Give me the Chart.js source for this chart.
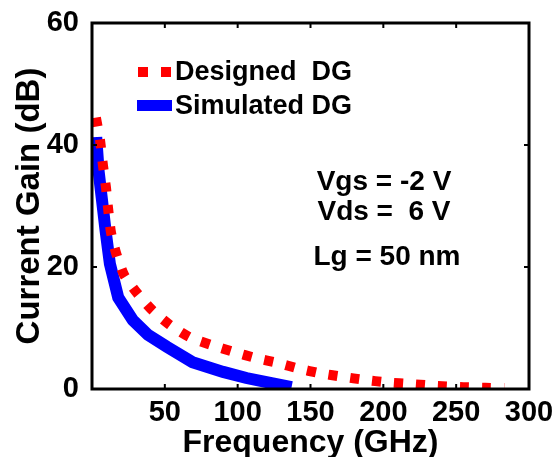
<!DOCTYPE html>
<html>
<head>
<meta charset="utf-8">
<script src="https://cdn.jsdelivr.net/npm/chart.js@4"></script>
<style>
  html, body { margin: 0; padding: 0; background: #fff; }
  #wrap { width: 556px; height: 457px; }
</style>
</head>
<body>
<div id="wrap"><canvas id="gainChart" width="556" height="457"></canvas></div>
<script>
// ---- data ----
const designedFreq = [2.7, 5.5, 7.5, 9.6, 11, 13, 16.5, 22, 31, 41, 53.5, 67, 82, 97, 112, 127, 141, 156, 172, 187, 202, 220, 237, 255, 270, 283];
const designedGain = [44.5, 40.8, 36.7, 33, 29.7, 25.7, 22.3, 18.7, 15.7, 13, 10.5, 8.5, 7.2, 6.1, 5.1, 4.3, 3.4, 2.6, 2.0, 1.5, 1.1, 0.8, 0.5, 0.3, 0.2, 0.15];

const simulatedFreq = [2.9, 4.6, 9.4, 12.3, 18, 28, 38.4, 51.5, 69, 90, 106, 137];
const simulatedGain = [41.3, 35.6, 25.8, 20.5, 15, 11.3, 8.9, 6.9, 4.4, 2.8, 1.8, 0.3];

const xTicks = [50, 100, 150, 200, 250, 300];
const yTicks = [0, 20, 40, 60];

const notes = ['Vgs = -2 V', 'Vds =  6 V', 'Lg = 50 nm'];

const FONT = "'Liberation Sans', Arial, sans-serif";

function toPoints(xs, ys) {
    return xs.map((x, i) => ({ x: x, y: ys[i] }));
}

// box + inward ticks, legend and text notes (MATLAB look)
const decorPlugin = {
    id: 'decor',
    afterDatasetsDraw(chart) {
        const ctx = chart.ctx;
        const a = chart.chartArea;
        const xs = chart.scales.x, ys = chart.scales.y;
        ctx.save();
        ctx.strokeStyle = '#000';
        ctx.lineWidth = 3;
        ctx.strokeRect(a.left, a.top, a.right - a.left, a.bottom - a.top);

        ctx.lineWidth = 2;
        ctx.beginPath();
        xTicks.forEach(v => {
            const px = xs.getPixelForValue(v);
            ctx.moveTo(px, a.bottom); ctx.lineTo(px, a.bottom - 5);
            ctx.moveTo(px, a.top); ctx.lineTo(px, a.top + 5);
        });
        yTicks.forEach(v => {
            const py = ys.getPixelForValue(v);
            ctx.moveTo(a.left, py); ctx.lineTo(a.left + 5, py);
            ctx.moveTo(a.right, py); ctx.lineTo(a.right - 5, py);
        });
        ctx.stroke();

        // legend
        ctx.fillStyle = '#ff0000';
        ctx.fillRect(138, 67, 10, 10);
        ctx.fillRect(161, 67, 10, 10);
        ctx.fillStyle = '#0000ff';
        ctx.fillRect(137, 100, 35, 11);

        ctx.fillStyle = '#000';
        ctx.textBaseline = 'middle';
        ctx.textAlign = 'left';
        ctx.font = 'bold 27px ' + FONT;
        ctx.fillText('Designed  DG', 175, 73);
        ctx.fillText('Simulated DG', 175, 107);

        ctx.textAlign = 'center';
        ctx.font = 'bold 28px ' + FONT;
        ctx.fillText(notes[0], 384, 182);
        ctx.fillText(notes[1], 384, 212);
        ctx.fillText(notes[2], 387, 257);
        ctx.restore();
    }
};

new Chart(document.getElementById('gainChart').getContext('2d'), {
    type: 'line',
    data: {
        datasets: [{
            label: 'Designed  DG',
            data: toPoints(designedFreq, designedGain),
            borderColor: '#ff0000',
            borderWidth: 10,
            borderDash: [9, 13],
            borderCapStyle: 'butt',
            pointRadius: 0,
            tension: 0.2,
            fill: false
        }, {
            label: 'Simulated DG',
            data: toPoints(simulatedFreq, simulatedGain),
            borderColor: '#0000ff',
            borderWidth: 12,
            borderJoinStyle: 'miter',
            pointRadius: 0,
            tension: 0,
            fill: false
        }]
    },
    options: {
        responsive: false,
        animation: false,
        devicePixelRatio: 1,
        layout: { padding: { top: 23, right: 27, left: 0, bottom: 0 } },
        plugins: {
            legend: { display: false },
            tooltip: { enabled: false }
        },
        scales: {
            x: {
                type: 'linear',
                min: 0,
                max: 300,
                afterFit: (s) => { s.height = 68; },
                afterBuildTicks: (s) => { s.ticks = xTicks.map(v => ({ value: v })); },
                grid: { display: false },
                border: { display: false },
                ticks: {
                    color: '#000',
                    padding: -1,
                    font: { family: FONT, size: 29, weight: 'bold' }
                },
                title: {
                    display: true,
                    text: 'Frequency (GHz)',
                    color: '#000',
                    padding: { top: 0, bottom: -5 },
                    font: { family: FONT, size: 32, weight: 'bold' }
                }
            },
            y: {
                type: 'linear',
                min: 0,
                max: 60,
                afterFit: (s) => { s.width = 92; },
                afterBuildTicks: (s) => { s.ticks = yTicks.map(v => ({ value: v })); },
                grid: { display: false },
                border: { display: false },
                ticks: {
                    color: '#000',
                    padding: 5,
                    font: { family: FONT, size: 29, weight: 'bold' }
                },
                title: {
                    display: true,
                    text: 'Current Gain (dB)',
                    color: '#000',
                    padding: { top: 10, bottom: 0 },
                    font: { family: FONT, size: 33, weight: 'bold' }
                }
            }
        }
    },
    plugins: [decorPlugin]
});
</script>
</body>
</html>
